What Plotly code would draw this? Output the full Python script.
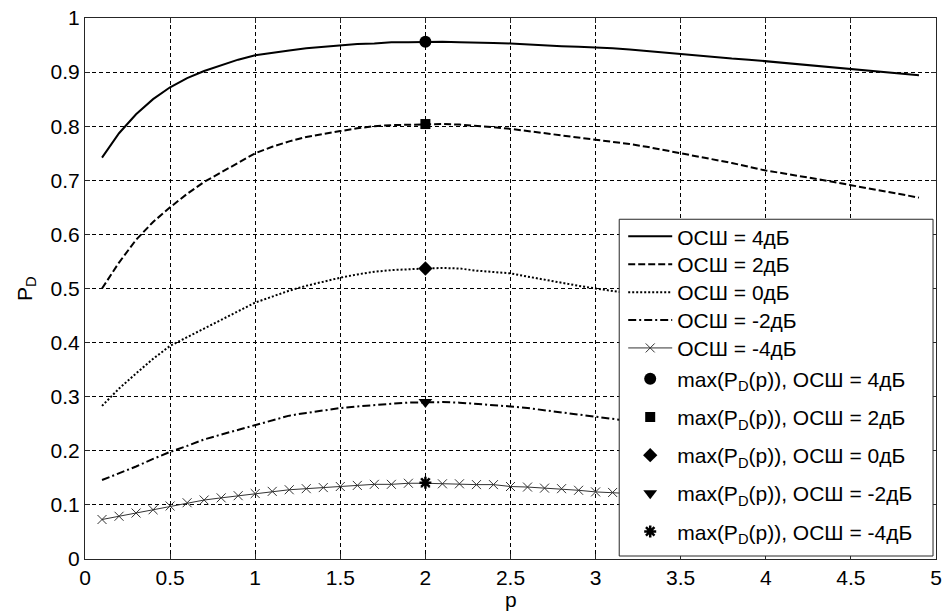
import plotly.graph_objects as go

# ---------------- data ----------------
p_full = [round(0.1 * i, 1) for i in range(1, 50)]          # 0.1 .. 4.9
p_part = [round(0.1 * i, 1) for i in range(1, 33)]          # 0.1 .. 3.2 (rest hidden by legend)

pd_4db = [0.742, 0.787, 0.822, 0.850, 0.872, 0.889, 0.902, 0.913, 0.923, 0.931,
          0.936, 0.940, 0.944, 0.947, 0.950, 0.952, 0.953, 0.955, 0.955, 0.956,
          0.956, 0.955, 0.955, 0.954, 0.953, 0.951, 0.950, 0.948, 0.947, 0.946,
          0.944, 0.942, 0.939, 0.936, 0.934, 0.931, 0.928, 0.925, 0.923, 0.920,
          0.917, 0.914, 0.911, 0.908, 0.905, 0.902, 0.899, 0.896, 0.894]

pd_2db = [0.500, 0.548, 0.590, 0.623, 0.650, 0.675, 0.697, 0.715, 0.733, 0.750,
          0.762, 0.772, 0.780, 0.786, 0.791, 0.796, 0.800, 0.802, 0.803, 0.804,
          0.804, 0.803, 0.801, 0.798, 0.795, 0.791, 0.788, 0.784, 0.780, 0.776,
          0.771, 0.767, 0.762, 0.756, 0.750, 0.745, 0.738, 0.732, 0.725, 0.718,
          0.713, 0.708, 0.703, 0.697, 0.691, 0.685, 0.679, 0.673, 0.668]

pd_0db = [0.283, 0.315, 0.343, 0.370, 0.394, 0.410, 0.426, 0.442, 0.459, 0.474,
          0.485, 0.496, 0.505, 0.513, 0.520, 0.526, 0.531, 0.534, 0.536, 0.537,
          0.538, 0.537, 0.533, 0.530, 0.528, 0.522, 0.516, 0.510, 0.505, 0.500,
          0.495, 0.491]

pd_m2db = [0.146, 0.158, 0.171, 0.185, 0.198, 0.209, 0.221, 0.230, 0.239, 0.247,
           0.256, 0.265, 0.270, 0.275, 0.279, 0.282, 0.285, 0.287, 0.289, 0.290,
           0.290, 0.289, 0.287, 0.284, 0.282, 0.279, 0.275, 0.271, 0.266, 0.262,
           0.258, 0.255]

pd_m4db = [0.073, 0.079, 0.085, 0.091, 0.098, 0.104, 0.109, 0.113, 0.117, 0.121,
           0.125, 0.128, 0.130, 0.132, 0.134, 0.136, 0.138, 0.138, 0.140, 0.140,
           0.139, 0.139, 0.1375, 0.1375, 0.134, 0.133, 0.131, 0.130, 0.127, 0.124,
           0.123, 0.121]

max_p = [2.0, 2.0, 2.0, 2.0, 2.0]
max_pd = [0.956, 0.804, 0.537, 0.290, 0.141]

line_names = ["ОСШ = 4дБ", "ОСШ = 2дБ", "ОСШ = 0дБ", "ОСШ = -2дБ", "ОСШ = -4дБ"]
max_names = ["max(P<sub>D</sub>(p)), ОСШ = 4дБ", "max(P<sub>D</sub>(p)), ОСШ = 2дБ",
             "max(P<sub>D</sub>(p)), ОСШ = 0дБ", "max(P<sub>D</sub>(p)), ОСШ = -2дБ",
             "max(P<sub>D</sub>(p)), ОСШ = -4дБ"]

x_ticks = [0, 0.5, 1, 1.5, 2, 2.5, 3, 3.5, 4, 4.5, 5]
x_ticktext = ["0", "0.5", "1", "1.5", "2", "2.5", "3", "3.5", "4", "4.5", "5"]
y_ticks = [0, 0.1, 0.2, 0.3, 0.4, 0.5, 0.6, 0.7, 0.8, 0.9, 1]
y_ticktext = ["0", "0.1", "0.2", "0.3", "0.4", "0.5", "0.6", "0.7", "0.8", "0.9", "1"]

x_title = "p"
y_title = "P<sub>D</sub>"

# ---------------- styling ----------------
FONT = "Liberation Sans, Arial, sans-serif"
FS = 21
W, H = 948, 613
L, R, T, B = 85, 6, 16, 54
PW, PH = W - L - R, H - T - B

def px_x(x):
    return (x - L) / PW

def px_y(y):
    return (H - B - y) / PH

fig = go.Figure()

line_series = [
    (p_full, pd_4db, dict(color="black", width=2, dash="solid"), None),
    (p_full, pd_2db, dict(color="black", width=2, dash="7px,3px"), None),
    (p_part, pd_0db, dict(color="black", width=2, dash="2px,2px"), None),
    (p_part, pd_m2db, dict(color="black", width=2, dash="8px,3px,2px,3px"), None),
    (p_part, pd_m4db, dict(color="#333333", width=1, dash="solid"),
     dict(symbol="x-thin-open", size=9, color="#333333", line=dict(width=1, color="#333333"))),
]

leg_ids = ["legend"] + [f"legend{i}" for i in range(2, 11)]

for i, (xs, ys, ln, mk) in enumerate(line_series):
    fig.add_trace(go.Scatter(
        x=xs, y=ys, name=line_names[i],
        mode="lines+markers" if mk else "lines",
        line=ln, marker=mk, legend=leg_ids[i],
    ))

max_markers = [
    dict(symbol="circle", size=12, color="black"),
    dict(symbol="square", size=10, color="black"),
    dict(symbol="diamond", size=11, color="black"),
    dict(symbol="triangle-down", size=12, color="black"),
    dict(symbol="asterisk-open", size=10, color="black", line=dict(width=2.5, color="black")),
]
for i in range(5):
    fig.add_trace(go.Scatter(
        x=[max_p[i]], y=[max_pd[i]], name=max_names[i], mode="markers",
        marker=max_markers[i], legend=leg_ids[5 + i],
    ))

axis_common = dict(
    showline=True, mirror="ticks", linecolor="#262626", linewidth=1,
    ticks="inside", ticklen=5, tickcolor="#262626", tickwidth=1,
    showgrid=True, gridcolor="black", gridwidth=1, griddash="4px,3px",
    zeroline=False, tickfont=dict(family=FONT, size=FS, color="black"),
)

fig.update_layout(
    width=W, height=H,
    margin=dict(l=L, r=R, t=T, b=B, pad=0),
    paper_bgcolor="white", plot_bgcolor="white",
    font=dict(family=FONT, size=FS, color="black"),
    xaxis=dict(range=[0, 5], tickvals=x_ticks, ticktext=x_ticktext, **axis_common),
    yaxis=dict(range=[0, 1], tickvals=y_ticks, ticktext=y_ticktext, **axis_common),
    showlegend=True,
)

# axis titles placed as annotations for exact positioning
fig.add_annotation(text=x_title, xref="paper", yref="paper", x=0.5, y=px_y(612),
                   xanchor="center", yanchor="bottom", showarrow=False, borderpad=0,
                   font=dict(family=FONT, size=FS, color="black"))
fig.add_annotation(text=y_title, xref="paper", yref="paper", x=px_x(25), y=0.5,
                   xanchor="center", yanchor="middle", showarrow=False, textangle=-90,
                   font=dict(family=FONT, size=FS, color="black"))

# legend box
fig.add_shape(type="rect", xref="paper", yref="paper",
              x0=px_x(623), x1=px_x(939), y0=px_y(556), y1=px_y(218),
              fillcolor="white", line=dict(color="#262626", width=1), layer="above")

entry_y = [235.5, 263.5, 291.5, 319.5, 347.5, 378.5, 416.8, 455.1, 493.4, 531.7]
legends = {}
for i, lid in enumerate(leg_ids):
    legends[lid] = dict(
        x=px_x(627), xanchor="left", y=px_y(entry_y[i]), yanchor="middle",
        bgcolor="rgba(0,0,0,0)", borderwidth=0, itemwidth=44,
        font=dict(family=FONT, size=FS, color="black"),
    )
fig.update_layout(**legends)

fig.write_html("out.html",
               config={"displayModeBar": False},
               post_script="document.body.style.margin='0';document.body.style.overflow='hidden';")
